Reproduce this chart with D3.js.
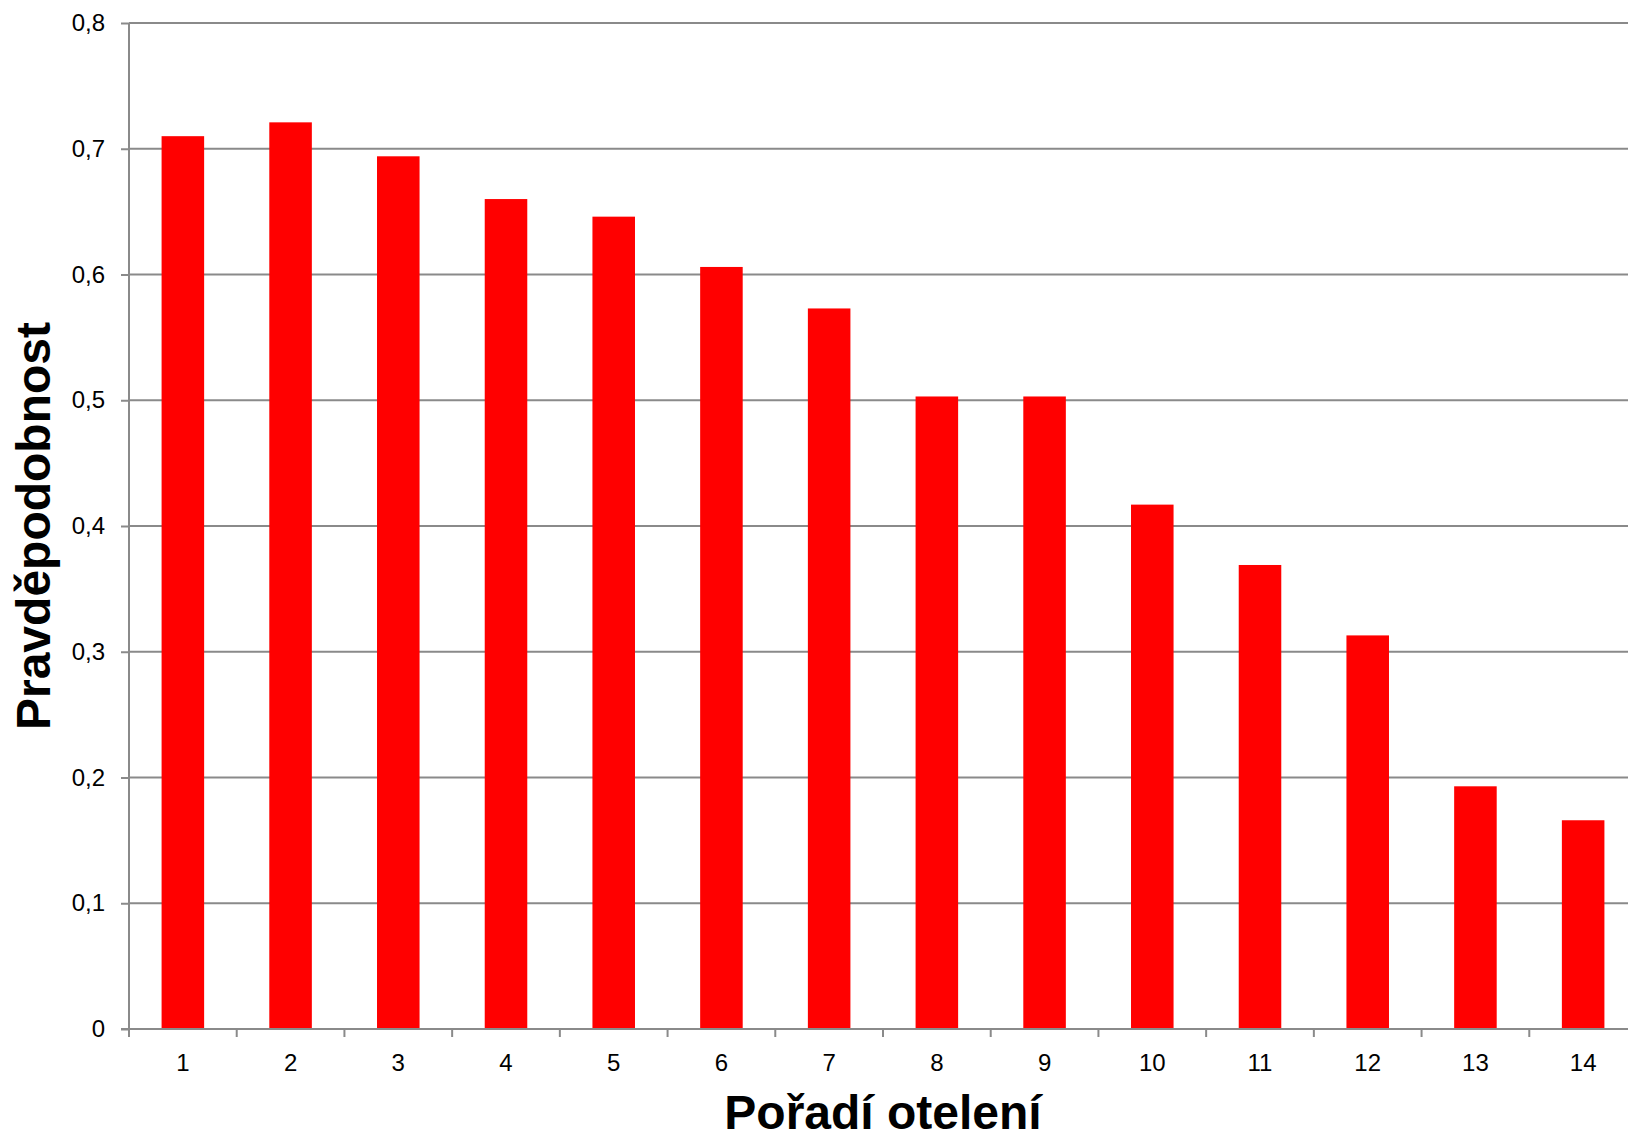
<!DOCTYPE html>
<html>
<head>
<meta charset="utf-8">
<script src="https://cdn.jsdelivr.net/npm/d3@7"></script>
<style>
  html, body { margin: 0; padding: 0; background: #fff; }
  svg { display: block; font-family: "Liberation Sans", Arial, sans-serif; }
</style>
</head>
<body>
<div id="chart"></div>
<script>
// pořadí otelení (1–14) a pravděpodobnost
const categories = ["1", "2", "3", "4", "5", "6", "7", "8", "9", "10", "11", "12", "13", "14"];
const values = [0.710, 0.721, 0.694, 0.660, 0.646, 0.606, 0.573, 0.503, 0.503, 0.417, 0.369, 0.313, 0.193, 0.166];
const yTicks = [0, 0.1, 0.2, 0.3, 0.4, 0.5, 0.6, 0.7, 0.8];

const width = 1628, height = 1134;
const margin = { top: 23, right: -9, bottom: 105, left: 129 };
const gridColor = "#8a8a8a";

const svg = d3.select("#chart").append("svg")
  .attr("width", width)
  .attr("height", height);

const x = d3.scaleBand()
  .domain(categories)
  .range([margin.left, width - margin.right])
  .paddingInner(0.605)
  .paddingOuter(0.3025);

const y = d3.scaleLinear()
  .domain([0, 0.8])
  .range([height - margin.bottom, margin.top]);

const fmt = v => d3.format(".1f")(v).replace(".", ",").replace(/^0,0$/, "0");

// --- mřížka ---
svg.append("g")
  .selectAll("line")
  .data(yTicks.filter(d => d > 0))
  .join("line")
  .attr("x1", margin.left)
  .attr("x2", width)
  .attr("y1", d => y(d))
  .attr("y2", d => y(d))
  .attr("stroke", gridColor)
  .attr("stroke-width", 2);

// --- sloupce ---
svg.append("g")
  .selectAll("rect")
  .data(values)
  .join("rect")
  .attr("x", (d, i) => x(categories[i]))
  .attr("width", x.bandwidth())
  .attr("y", d => y(d))
  .attr("height", d => y(0) - y(d))
  .attr("fill", "#ff0000");

// --- osa Y ---
const yAxis = svg.append("g")
  .attr("transform", `translate(${margin.left},0)`)
  .call(d3.axisLeft(y).tickValues(yTicks).tickFormat(fmt).tickSize(8).tickPadding(16));
yAxis.select(".domain").attr("stroke", gridColor).attr("stroke-width", 2)
  .attr("d", `M0,${y(0.8)}V${y(0) + 8}`);
yAxis.selectAll(".tick line").attr("stroke", gridColor).attr("stroke-width", 2);
yAxis.selectAll(".tick text")
  .attr("fill", "#000")
  .style("font-size", "24px")
  .style("font-family", "'Liberation Sans', Arial, sans-serif");

// --- osa X ---
svg.append("line")
  .attr("x1", margin.left - 8)
  .attr("x2", width)
  .attr("y1", y(0))
  .attr("y2", y(0))
  .attr("stroke", gridColor)
  .attr("stroke-width", 2);

const step = x.step();
svg.append("g")
  .selectAll("line")
  .data(d3.range(categories.length + 1))
  .join("line")
  .attr("x1", i => margin.left + i * step)
  .attr("x2", i => margin.left + i * step)
  .attr("y1", y(0))
  .attr("y2", y(0) + 8)
  .attr("stroke", gridColor)
  .attr("stroke-width", 2);

svg.append("g")
  .selectAll("text")
  .data(categories)
  .join("text")
  .attr("x", d => x(d) + x.bandwidth() / 2)
  .attr("y", y(0) + 42)
  .attr("text-anchor", "middle")
  .style("font-size", "24px")
  .text(d => d);

// --- názvy os ---
svg.append("text")
  .attr("x", (margin.left + width - margin.right) / 2)
  .attr("y", 1129)
  .attr("text-anchor", "middle")
  .style("font-size", "48px")
  .style("font-weight", "bold")
  .text("Pořadí otelení");

svg.append("text")
  .attr("transform", `translate(50,${(y(0) + y(0.8)) / 2}) rotate(-90)`)
  .attr("text-anchor", "middle")
  .style("font-size", "48px")
  .style("font-weight", "bold")
  .text("Pravděpodobnost");
</script>
</body>
</html>
